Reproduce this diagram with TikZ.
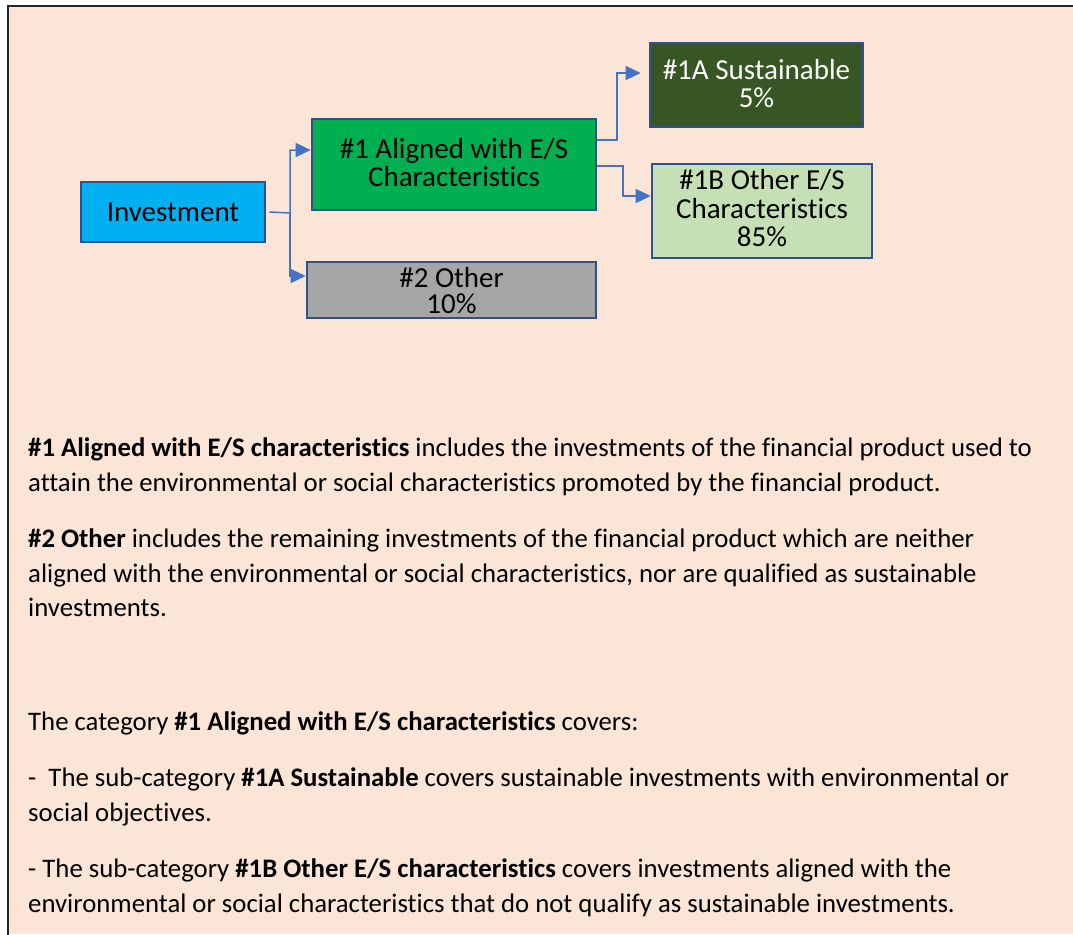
\documentclass[tikz,border=0pt]{standalone}
\usepackage{fontspec}
\setmainfont{Carlito}[Ligatures={NoCommon}]
\usetikzlibrary{arrows.meta}
\definecolor{bg}{HTML}{FBE5D6}
\definecolor{bord}{HTML}{2F528F}
\definecolor{conncol}{HTML}{4472C4}
\definecolor{invc}{HTML}{00B0F0}
\definecolor{alc}{HTML}{00B050}
\definecolor{othc}{HTML}{A6A6A6}
\definecolor{susc}{HTML}{375623}
\definecolor{obc}{HTML}{C5E0B4}
\tikzset{
  box/.style={draw=bord, line width=2.6pt, rectangle, inner sep=0pt},
  boxtext/.style={anchor=base, inner sep=0pt, font=\fontsize{29}{34}\selectfont},
  body/.style={anchor=base west, inner sep=0pt, font=\fontsize{26.75}{35}\selectfont},
  conn/.style={draw=conncol, line width=1.5pt, -{Triangle[length=15pt,width=14pt]}},
}
\begin{document}
\begin{tikzpicture}[x=1pt,y=-1pt]
\useasboundingbox (0,0) rectangle (1073,934);
\fill[white] (0,0) rectangle (1073,934);
\fill[bg] (8,6) rectangle (1073,934);
\draw[line width=2.2pt, black!85, line cap=rect] (8,934) -- (8,6) -- (1073,6);

% boxes
\node[box, fill=invc, minimum width=184pt, minimum height=60pt] (inv) at (173,212) {};
\node[box, fill=alc, minimum width=284pt, minimum height=91pt] (al) at (454,164.5) {};
\node[box, fill=othc, minimum width=289pt, minimum height=56pt] (oth) at (451.5,290) {};
\node[box, fill=susc, minimum width=213pt, minimum height=84pt] (sus) at (756.5,85) {};
\node[box, fill=obc, minimum width=220pt, minimum height=94pt] (ob) at (762,211) {};

% box texts
\node[boxtext] (invt) at (173,221) {Investment};
\node[boxtext] (alt1) at (454,158) {\#1 Aligned with E/S};
\node[boxtext] (alt2) at (454,186) {Characteristics};
\node[boxtext] (otht1) at (451.5,287) {\#2 Other};
\node[boxtext] (otht2) at (451.5,313) {10\%};
\node[boxtext, text=white] (sust1) at (756.5,79) {\#1A Sustainable};
\node[boxtext, text=white] (sust2) at (756.5,107) {5\%};
\node[boxtext] (obt1) at (762,189) {\#1B Other E/S};
\node[boxtext] (obt2) at (762,218) {Characteristics};
\node[boxtext] (obt3) at (762,246) {85\%};

% connectors
\coordinate (j1) at (290,213);
\coordinate (j2) at (617,140);
\coordinate (j3) at (623,166);
\draw[conn] ([xshift=3pt]inv.east) -- (j1) |- ([yshift=14.5pt]al.west);
\draw[conn] (j1) |- ([yshift=14pt]oth.west);
\draw[conn, shorten >=8pt] ([yshift=24.5pt]al.east) -- (j2) |- ([yshift=12pt]sus.west);
\draw[conn] ([yshift=-1.5pt]al.east) -- (j3) |- ([yshift=15pt]ob.west);

% body text
\node[body] (p1a) at (28,456) {\textbf{\#1 Aligned with E/S characteristics} includes the investments of the financial product used to};
\node[body] (p1b) at (28,491) {attain the environmental or social characteristics promoted by the financial product.};
\node[body] (p2a) at (28,547) {\textbf{\#2 Other} includes the remaining investments of the financial product which are neither};
\node[body] (p2b) at (28,582) {aligned with the environmental or social characteristics, nor are qualified as sustainable};
\node[body] (p2c) at (28,616) {investments.};
\node[body] (p3) at (28,730) {The category \textbf{\#1 Aligned with E/S characteristics} covers:};
\node[body] (p4a) at (28,786) {-\ \ The sub-category \textbf{\#1A Sustainable} covers sustainable investments with environmental or};
\node[body] (p4b) at (28,821) {social objectives.};
\node[body] (p5a) at (28,877) {- The sub-category \textbf{\#1B Other E/S characteristics} covers investments aligned with the};
\node[body] (p5b) at (28,912) {environmental or social characteristics that do not qualify as sustainable investments.};
\end{tikzpicture}
\end{document}
